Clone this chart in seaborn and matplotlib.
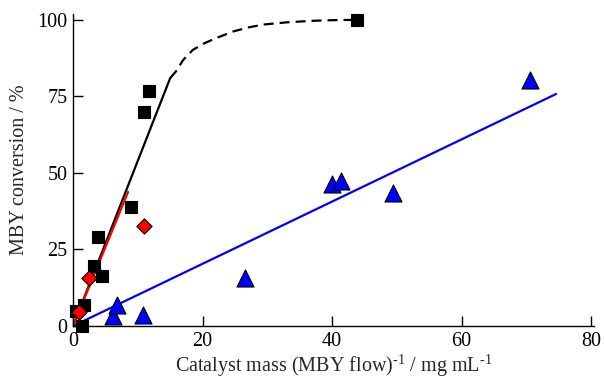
import numpy as np
import pandas as pd
import matplotlib
matplotlib.use('Agg')
import matplotlib.pyplot as plt
import seaborn as sns

# black squares
sq_x = [0.4, 1.3, 1.7, 3.2, 3.8, 4.5, 8.9, 10.9, 11.8, 43.8]
sq_y = [5.0, 0.0, 6.9, 19.6, 29.2, 16.4, 38.9, 70.0, 76.8, 100.0]

# red diamonds
di_x = [0.9, 2.5, 11.0]
di_y = [4.5, 15.8, 32.6]

# blue triangles
tr_x = [6.2, 6.8, 10.8, 26.6, 40.0, 41.3, 49.4, 70.6]
tr_y = [3.2, 6.9, 3.6, 15.6, 46.3, 47.3, 43.4, 80.4]

# fitted lines
black_fit_x = [0.0, 15.0]
black_fit_y = [0.0, 81.0]
red_fit_x = [0.0, 8.5]
red_fit_y = [0.0, 43.8]
blue_fit_x = [0.0, 74.6]
blue_fit_y = [0.0, 75.8]

# dashed saturation curve
dash_x = [15.0, 15.9, 17.0, 18.5, 20.3, 22.4, 24.7, 27.2, 29.5, 33.0, 37.0, 40.0, 43.0]
dash_y = [81.0, 83.2, 86.9, 90.2, 92.4, 94.3, 96.2, 97.6, 98.5, 99.2, 99.7, 99.9, 100.0]

sns.set_theme(style='white')
plt.rcParams['font.family'] = ['Liberation Serif', 'DejaVu Serif']
plt.rcParams['mathtext.fontset'] = 'custom'
plt.rcParams['mathtext.rm'] = 'Liberation Serif'

fig = plt.figure(figsize=(6.04, 3.78), dpi=100)
ax = fig.add_axes([0.121, 0.1376, 0.863, 0.826])

sns.lineplot(x=black_fit_x, y=black_fit_y, color='black', lw=1.6, ax=ax)
sns.lineplot(x=red_fit_x, y=red_fit_y, color='red', lw=1.6, ax=ax)
sns.lineplot(x=blue_fit_x, y=blue_fit_y, color='blue', lw=1.6, ax=ax)
sns.lineplot(x=dash_x, y=dash_y, color='black', lw=1.6, ax=ax,
             sort=False, estimator=None, linestyle=(0, (4.5, 2.7)))

sns.scatterplot(x=sq_x, y=sq_y, marker='s', color='black', s=70,
                edgecolor='black', linewidth=0.8, ax=ax, clip_on=False, zorder=5)
sns.scatterplot(x=di_x, y=di_y, marker='D', color='red', s=60,
                edgecolor='black', linewidth=0.8, ax=ax, clip_on=False, zorder=6)
sns.scatterplot(x=tr_x, y=tr_y, marker='^', color='blue', s=150,
                edgecolor='black', linewidth=0.8, ax=ax, clip_on=False, zorder=6)

ax.set_xlim(0, 80.5)
ax.set_ylim(0, 102)
ax.set_xticks([0, 20, 40, 60, 80])
ax.set_yticks([0, 25, 50, 75, 100])
for s in ['top', 'right']:
    ax.spines[s].set_visible(False)
for s in ['left', 'bottom']:
    ax.spines[s].set_color('black')
    ax.spines[s].set_linewidth(1.0)
ax.tick_params(direction='in', length=7, width=1.0, labelsize=14.5,
               colors='black', pad=4, left=True, bottom=True)

ax.set_xlabel(r'Catalyst mass (MBY flow)$^{\text{-1}}$ / mg mL$^{\text{-1}}$',
              fontsize=14.5, labelpad=1)
ax.set_ylabel('MBY conversion / %', fontsize=14.5, labelpad=6)

fig.savefig('out.png', dpi=100)
